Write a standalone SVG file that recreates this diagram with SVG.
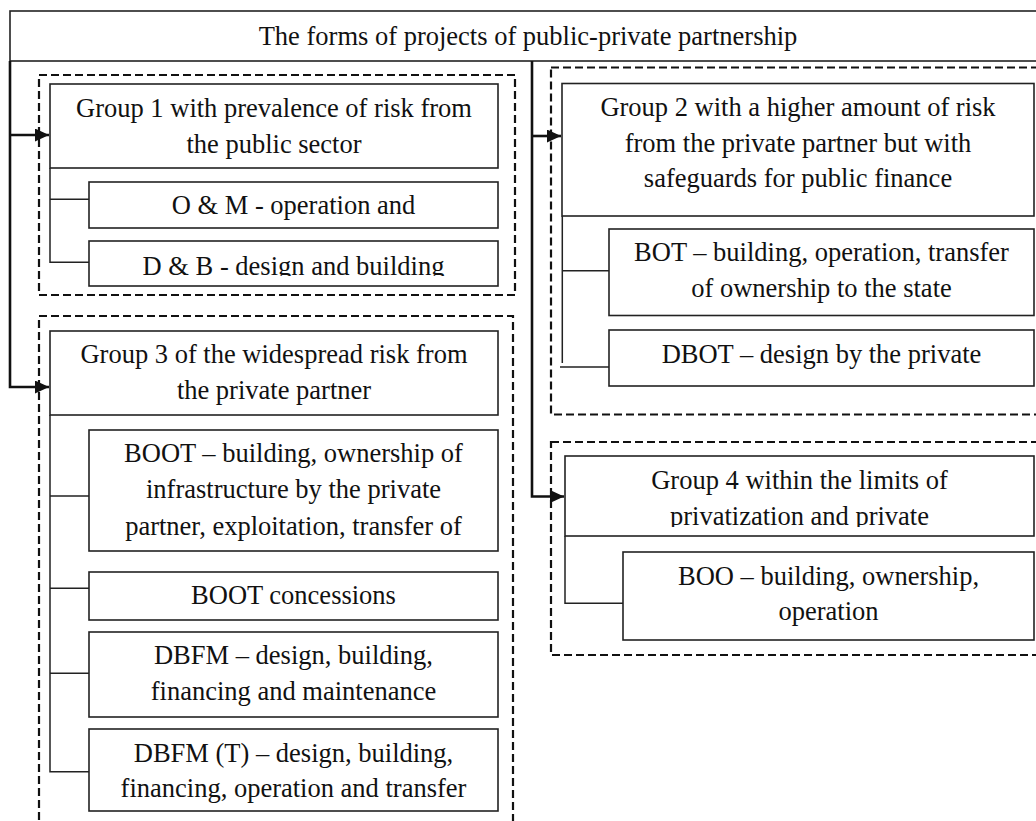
<svg xmlns="http://www.w3.org/2000/svg" width="1036" height="821" viewBox="0 0 1036 821">
<style>
.box{fill:#fff;stroke:#222;stroke-width:1.6}
.grp{fill:none;stroke:#111;stroke-width:2.2;stroke-dasharray:8 4}
.t{font-family:"Liberation Serif","Times New Roman",serif;font-size:26.5px;fill:#111;text-anchor:middle}
.tree{fill:none;stroke:#222;stroke-width:1.5}
.arr{fill:none;stroke:#111;stroke-width:2.6}
</style>
<defs>
<marker id="ah" markerUnits="userSpaceOnUse" markerWidth="15" markerHeight="14" refX="14" refY="6.5" orient="auto">
<path d="M0,0 L14,6.5 L0,13 z" fill="#111"/>
</marker>
<clipPath id="clipDB"><rect x="89" y="241" width="409" height="35"/></clipPath>
<clipPath id="clipG4"><rect x="565" y="456" width="470" height="71"/></clipPath>
</defs>
<rect width="1036" height="821" fill="#fff"/>

<g id="groups">
<rect class="grp" x="39" y="75" width="476" height="220"/>
<rect class="grp" x="39" y="316" width="474" height="600"/>
<rect class="grp" x="551" y="67.5" width="600" height="347"/>
<rect class="grp" x="551" y="442" width="600" height="213"/>
</g>

<g id="title">
<rect class="box" x="10" y="11" width="1100" height="50"/>
<text class="t" x="528" y="45">The forms of projects of public-private partnership</text>
</g>

<g id="connectors">
<path class="arr" d="M10,61 V387 H49" marker-end="url(#ah)"/>
<path class="arr" d="M10,135 H49" marker-end="url(#ah)"/>
<path class="arr" d="M532,61 V496.5 H564" marker-end="url(#ah)"/>
<path class="arr" d="M532,136 H561" marker-end="url(#ah)"/>
<path class="tree" d="M50,168 V262.3 H89 M50,199.3 H89"/>
<path class="tree" d="M50,415 V771.7 H89 M50,496 H89 M50,588.3 H89 M50,673.3 H89"/>
<path class="tree" d="M562.3,216 V363 M562.3,270.7 H609 M560,367 H609"/>
<path class="tree" d="M565,536 V603.3 H623"/>
</g>

<g id="g1">
<rect class="box" x="50" y="84" width="448" height="84"/>
<text class="t" x="274" y="116.7">Group 1 with prevalence of risk from</text>
<text class="t" x="274" y="152.7">the public sector</text>
</g>
<g id="om">
<rect class="box" x="89" y="182" width="409" height="46"/>
<text class="t" x="293.5" y="214">O &amp; M - operation and</text>
</g>
<g id="db">
<rect class="box" x="89" y="241" width="409" height="45"/>
<text class="t" x="293.5" y="274.5" clip-path="url(#clipDB)">D &amp; B - design and building</text>
</g>

<g id="g3">
<rect class="box" x="50" y="331" width="448" height="84"/>
<text class="t" x="274" y="362.7">Group 3 of the widespread risk from</text>
<text class="t" x="274" y="398.5">the private partner</text>
</g>
<g id="boot">
<rect class="box" x="89" y="430" width="409" height="121"/>
<text class="t" x="293.5" y="461.7">BOOT – building, ownership of</text>
<text class="t" x="293.5" y="498.3">infrastructure by the private</text>
<text class="t" x="293.5" y="535">partner, exploitation, transfer of</text>
</g>
<g id="bootc">
<rect class="box" x="89" y="572" width="409" height="48"/>
<text class="t" x="293.5" y="604.3">BOOT concessions</text>
</g>
<g id="dbfm">
<rect class="box" x="89" y="632" width="409" height="85"/>
<text class="t" x="293.5" y="664">DBFM – design, building,</text>
<text class="t" x="293.5" y="700">financing and maintenance</text>
</g>
<g id="dbfmt">
<rect class="box" x="89" y="729" width="409" height="82"/>
<text class="t" x="293.5" y="761.7">DBFM (T) – design, building,</text>
<text class="t" x="293.5" y="797.3">financing, operation and transfer</text>
</g>

<g id="g2">
<rect class="box" x="562" y="83.5" width="472" height="132.5"/>
<text class="t" x="798" y="116">Group 2 with a higher amount of risk</text>
<text class="t" x="798" y="151.7">from the private partner but with</text>
<text class="t" x="798" y="186.7">safeguards for public finance</text>
</g>
<g id="bot">
<rect class="box" x="609" y="229" width="425" height="86.5"/>
<text class="t" x="821.5" y="260.7">BOT – building, operation, transfer</text>
<text class="t" x="821.5" y="296.7">of ownership to the state</text>
</g>
<g id="dbot">
<rect class="box" x="609" y="330" width="425" height="56"/>
<text class="t" x="821.5" y="363">DBOT – design by the private</text>
</g>

<g id="g4">
<rect class="box" x="565" y="456" width="469" height="80"/>
<text class="t" x="799.5" y="489.3">Group 4 within the limits of</text>
<text class="t" x="799.5" y="525" clip-path="url(#clipG4)">privatization and private</text>
</g>
<g id="boo">
<rect class="box" x="623" y="552" width="411" height="88"/>
<text class="t" x="828.5" y="585">BOO – building, ownership,</text>
<text class="t" x="828.5" y="620">operation</text>
</g>
</svg>
